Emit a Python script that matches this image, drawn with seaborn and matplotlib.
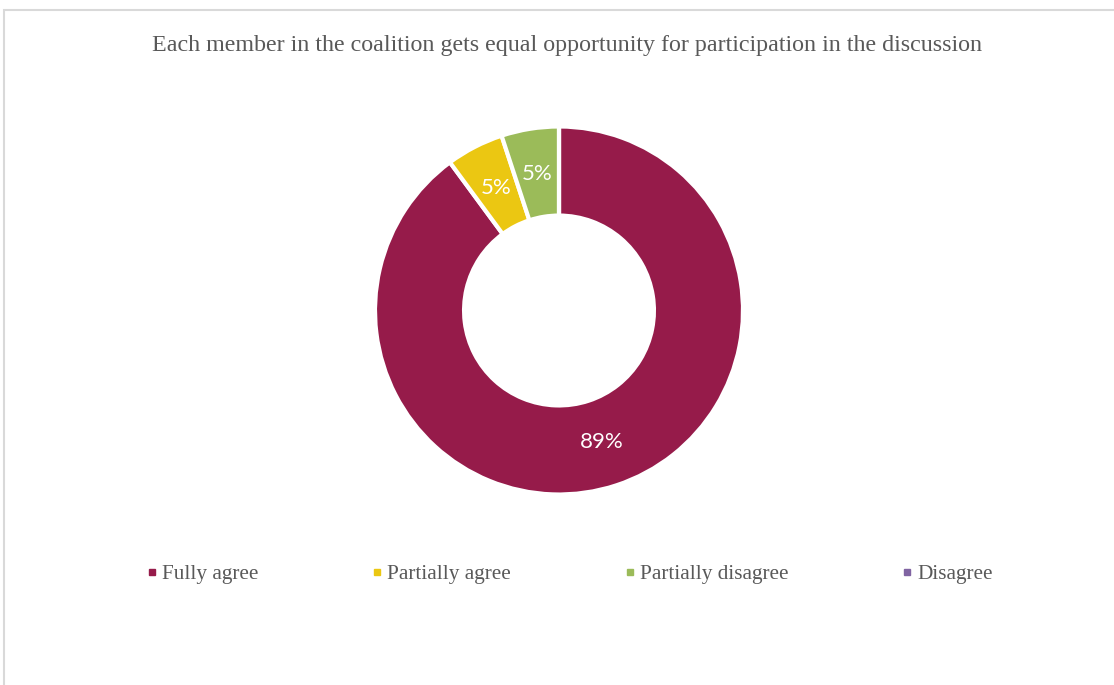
import matplotlib
matplotlib.use("Agg")
import matplotlib.pyplot as plt
from matplotlib.lines import Line2D
from matplotlib.patches import Rectangle
import seaborn as sns

# Survey responses (share of respondents, %)
categories = ["Fully agree", "Partially agree", "Partially disagree", "Disagree"]
shares = [89, 5, 5, 0]
title = "Each member in the coalition gets equal opportunity for participation in the discussion"

sns.set_theme(style="white")
palette = sns.color_palette(["#961B4A", "#EBC712", "#9BBB59", "#8064A2"])

W, H, DPI = 1114, 685, 100
fig = plt.figure(figsize=(W / DPI, H / DPI), dpi=DPI)
fig.patch.set_facecolor("white")

# Light frame around the chart area (runs off the right and bottom edges)
fig.patches.append(Rectangle((4 / W, -0.5), 1.2, 1.5 - 10 / H, transform=fig.transFigure,
                             fill=False, edgecolor="#D9D9D9", linewidth=1.5))

cx, cy, r = 559, 310.5, 184
ax = fig.add_axes([(cx - r) / W, (H - cy - r) / H, 2 * r / W, 2 * r / H])


def fmt(pct):
    return "" if pct < 0.5 else f"{round(pct * sum(shares) / 100):.0f}%"


wedges, texts, autotexts = ax.pie(
    shares,
    colors=palette,
    startangle=90,
    counterclock=False,
    radius=1,
    autopct=fmt,
    pctdistance=0.75,
    wedgeprops=dict(width=0.484, edgecolor="white", linewidth=3, clip_on=False),
    textprops=dict(color="white", fontsize=16, family=["Lato", "DejaVu Sans"]),
)
ax.set_xlim(-1, 1)
ax.set_ylim(-1, 1)
ax.set_aspect("equal")
ax.axis("off")

fig.text(567 / W, 1 - 46 / H, title, ha="center", va="center", fontsize=17.3,
         color="#595959", family=["Liberation Serif", "DejaVu Serif"])

handles = [Line2D([0], [0], marker="s", linestyle="none", markersize=5,
                  markerfacecolor=c, markeredgecolor=c) for c in palette]
leg = fig.legend(handles, categories, loc="center", ncol=4,
                 bbox_to_anchor=(0.511, 1 - 574 / H), frameon=False,
                 handlelength=0.6, handletextpad=0.17, columnspacing=5.3,
                 prop=dict(family=["Liberation Serif", "DejaVu Serif"], size=15.3))
for t in leg.get_texts():
    t.set_color("#595959")

fig.savefig("out.png", dpi=DPI, facecolor="white")
